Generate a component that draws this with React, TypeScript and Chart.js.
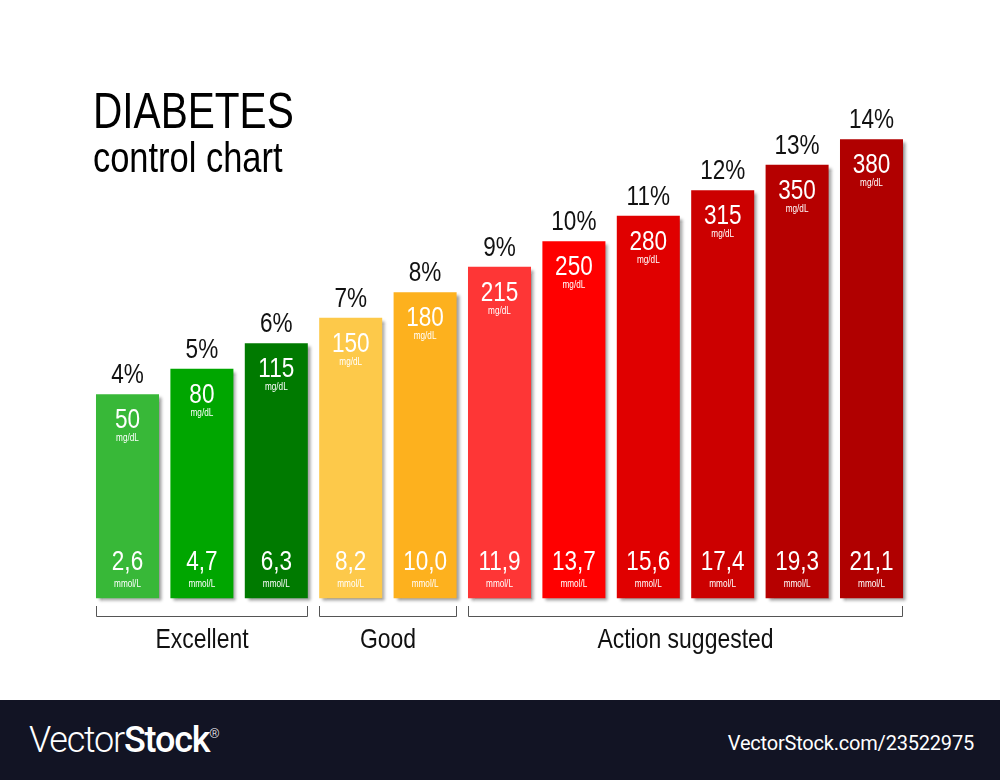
import React, { useEffect, useRef } from "react";
import { Chart, registerables } from "chart.js";

Chart.register(...registerables);

const categories = ["4%", "5%", "6%", "7%", "8%", "9%", "10%", "11%", "12%", "13%", "14%"];
const hba1cValues = [4, 5, 6, 7, 8, 9, 10, 11, 12, 13, 14];
const mgdlValues = [50, 80, 115, 150, 180, 215, 250, 280, 315, 350, 380];
const mmolValues = ["2,6", "4,7", "6,3", "8,2", "10,0", "11,9", "13,7", "15,6", "17,4", "19,3", "21,1"];
const barColors = [
  "#38b838", "#00a600", "#007a00", "#fdc94a", "#fdb11e",
  "#fe3636", "#ff0000", "#e00000", "#cc0000", "#b60000", "#b00000",
];
const groupLabels = ["Excellent", "Good", "Action suggested"];
const groupStart = [0, 3, 5];
const groupEnd = [2, 4, 10];
const titleLines = ["DIABETES", "control chart"];
const mgUnit = "mg/dL";
const mmolUnit = "mmol/L";

const FONT = '"Liberation Sans", Arial, sans-serif';
const NARROW = 0.82;

function narrowText(ctx: any, text: string, x: number, y: number, size: number, color: string, align: string) {
  ctx.save();
  ctx.translate(x, y);
  ctx.scale(NARROW, 1);
  ctx.font = `${size}px ${FONT}`;
  ctx.fillStyle = color;
  ctx.textAlign = align;
  ctx.textBaseline = "alphabetic";
  ctx.fillText(text, 0, 0);
  ctx.restore();
}

const decorPlugin = {
  id: "decor",
  beforeDatasetsDraw(chart: any) {
    const ctx = chart.ctx;
    ctx.save();
    ctx.shadowColor = "rgba(0,0,0,0.38)";
    ctx.shadowOffsetX = 3;
    ctx.shadowOffsetY = 3;
    ctx.shadowBlur = 3;
  },
  afterDatasetsDraw(chart: any) {
    const ctx = chart.ctx;
    ctx.restore();
    ctx.save();
    const meta = chart.getDatasetMeta(0);
    meta.data.forEach((bar: any, i: number) => {
      const { x, y, base } = bar.getProps(["x", "y", "base"], true);
      narrowText(ctx, categories[i], x, y - 11, 27.5, "#111", "center");
      narrowText(ctx, String(mgdlValues[i]), x, y + 34, 27.5, "#fff", "center");
      narrowText(ctx, mgUnit, x, y + 47, 10, "#fff", "center");
      narrowText(ctx, mmolValues[i], x, base - 28, 27.5, "#fff", "center");
      narrowText(ctx, mmolUnit, x, base - 11, 10, "#fff", "center");
    });

    // group brackets
    const first: any = meta.data[0];
    const base = first.base;
    ctx.strokeStyle = "#555";
    ctx.lineWidth = 1;
    groupLabels.forEach((lab, g) => {
      const a: any = meta.data[groupStart[g]];
      const b: any = meta.data[groupEnd[g]];
      const left = Math.round(a.x - a.width / 2) + 0.5;
      const right = Math.round(b.x + b.width / 2) - 0.5;
      const yTop = Math.round(base + 8);
      const yBot = Math.round(base + 18) + 0.5;
      ctx.beginPath();
      ctx.moveTo(left, yTop);
      ctx.lineTo(left, yBot);
      ctx.lineTo(right, yBot);
      ctx.lineTo(right, yTop);
      ctx.stroke();
      narrowText(ctx, lab, (left + right) / 2, base + 50, 28, "#111", "center");
    });

    // title
    narrowText(ctx, titleLines[0], 93, 128, 49.5, "#000", "left");
    narrowText(ctx, titleLines[1], 93, 172, 42, "#000", "left");
    ctx.restore();
  },
};

export default function App() {
  const canvasRef = useRef<HTMLCanvasElement | null>(null);

  useEffect(() => {
    if (!canvasRef.current) return;
    const chart = new Chart(canvasRef.current, {
      type: "bar",
      data: {
        labels: categories,
        datasets: [
          {
            data: hba1cValues,
            backgroundColor: barColors,
            borderWidth: 0,
            base: -4,
            barPercentage: 0.847,
            categoryPercentage: 1,
            clip: false,
          } as any,
        ],
      },
      options: {
        animation: false,
        responsive: true,
        maintainAspectRatio: false,
        layout: { padding: { left: 90.3, right: 91.3, top: 139.3, bottom: 101.7 } },
        plugins: { legend: { display: false }, tooltip: { enabled: false }, title: { display: false } },
        scales: {
          x: { display: false, offset: true },
          y: { display: false, min: -4, max: 14 },
        },
      },
      plugins: [decorPlugin],
    });
    return () => chart.destroy();
  }, []);

  return (
    <div style={{ position: "fixed", left: 0, top: 0, width: 1000, height: 780, background: "#fff" }}>
      <div style={{ position: "absolute", left: 0, top: 0, width: 1000, height: 700 }}>
        <canvas ref={canvasRef} />
      </div>
      <div
        style={{
          position: "absolute",
          left: 0,
          top: 700,
          width: 1000,
          height: 80,
          background: "#121424",
          color: "#fff",
          fontFamily: "Roboto, 'Open Sans', sans-serif",
        }}
      >
        <div style={{ position: "absolute", left: 29, top: 20, fontSize: 36, lineHeight: "40px", letterSpacing: -1.2 }}>
          <span style={{ fontWeight: 300 }}>Vector</span>
          <span style={{ fontWeight: 500 }}>Stock</span>
          <sup style={{ fontSize: 13, fontWeight: 300, verticalAlign: "top", position: "relative", top: -6 }}>®</sup>
        </div>
        <div style={{ position: "absolute", right: 26, top: 31, fontSize: 20, lineHeight: "24px", letterSpacing: -0.2 }}>
          VectorStock.com/23522975
        </div>
      </div>
    </div>
  );
}
